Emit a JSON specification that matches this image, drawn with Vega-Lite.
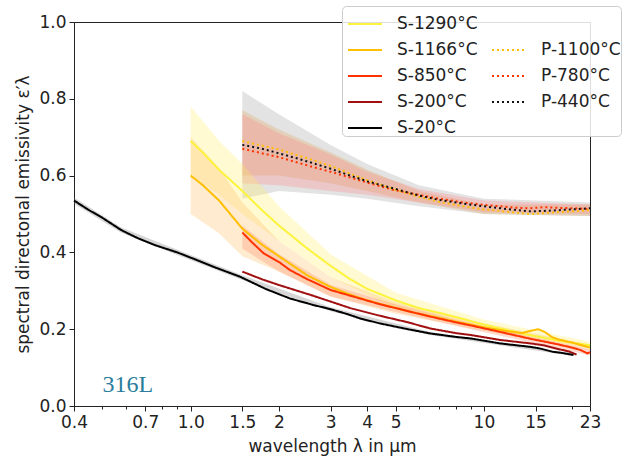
{
  "$schema": "https://vega.github.io/schema/vega-lite/v6.json",
  "width": 516,
  "height": 384,
  "autosize": {"type": "none"},
  "padding": {"left": 74, "top": 22, "right": 33, "bottom": 57},
  "background": "white",
  "config": {
    "view": {"stroke": "#222", "strokeWidth": 1},
    "font": "DejaVu Sans",
    "axis": {
      "labelFont": "DejaVu Sans", "labelFontSize": 17, "labelColor": "#222",
      "titleFont": "DejaVu Sans", "titleFontSize": 17, "titleColor": "#222", "titleFontWeight": "normal",
      "grid": false, "tickColor": "#222", "domainColor": "#222", "tickSize": 5, "labelPadding": 3
    },
    "legend": {
      "labelFont": "DejaVu Sans", "labelFontSize": 17, "labelColor": "#222"
    }
  },
  "datasets": {
    "lines": [
      {"s": "S-1290°C", "lam": 1.0, "v": 0.69}, {"s": "S-1290°C", "lam": 1.1, "v": 0.66}, {"s": "S-1290°C", "lam": 1.25, "v": 0.615}, {"s": "S-1290°C", "lam": 1.5, "v": 0.56}, {"s": "S-1290°C", "lam": 1.75, "v": 0.51}, {"s": "S-1290°C", "lam": 2.0, "v": 0.47}, {"s": "S-1290°C", "lam": 2.5, "v": 0.41}, {"s": "S-1290°C", "lam": 3.0, "v": 0.365}, {"s": "S-1290°C", "lam": 3.5, "v": 0.33}, {"s": "S-1290°C", "lam": 4.0, "v": 0.305}, {"s": "S-1290°C", "lam": 5.0, "v": 0.275}, {"s": "S-1290°C", "lam": 6.0, "v": 0.255}, {"s": "S-1290°C", "lam": 7.0, "v": 0.243}, {"s": "S-1290°C", "lam": 8.0, "v": 0.232}, {"s": "S-1290°C", "lam": 10.0, "v": 0.212}, {"s": "S-1290°C", "lam": 12.0, "v": 0.198}, {"s": "S-1290°C", "lam": 14.0, "v": 0.186}, {"s": "S-1290°C", "lam": 16.0, "v": 0.178}, {"s": "S-1290°C", "lam": 18.0, "v": 0.17}, {"s": "S-1290°C", "lam": 20.0, "v": 0.165}, {"s": "S-1290°C", "lam": 23.0, "v": 0.158},
      {"s": "S-1166°C", "lam": 1.0, "v": 0.6}, {"s": "S-1166°C", "lam": 1.1, "v": 0.575}, {"s": "S-1166°C", "lam": 1.25, "v": 0.535}, {"s": "S-1166°C", "lam": 1.5, "v": 0.462}, {"s": "S-1166°C", "lam": 1.75, "v": 0.42}, {"s": "S-1166°C", "lam": 2.0, "v": 0.39}, {"s": "S-1166°C", "lam": 2.5, "v": 0.34}, {"s": "S-1166°C", "lam": 3.0, "v": 0.31}, {"s": "S-1166°C", "lam": 3.5, "v": 0.29}, {"s": "S-1166°C", "lam": 4.0, "v": 0.275}, {"s": "S-1166°C", "lam": 5.0, "v": 0.255}, {"s": "S-1166°C", "lam": 6.0, "v": 0.24}, {"s": "S-1166°C", "lam": 7.0, "v": 0.23}, {"s": "S-1166°C", "lam": 8.0, "v": 0.22}, {"s": "S-1166°C", "lam": 10.0, "v": 0.205}, {"s": "S-1166°C", "lam": 12.0, "v": 0.195}, {"s": "S-1166°C", "lam": 13.5, "v": 0.19}, {"s": "S-1166°C", "lam": 14.5, "v": 0.196}, {"s": "S-1166°C", "lam": 15.3, "v": 0.2}, {"s": "S-1166°C", "lam": 16.2, "v": 0.192}, {"s": "S-1166°C", "lam": 17.0, "v": 0.18}, {"s": "S-1166°C", "lam": 18.0, "v": 0.173}, {"s": "S-1166°C", "lam": 20.0, "v": 0.165}, {"s": "S-1166°C", "lam": 23.0, "v": 0.152},
      {"s": "S-850°C", "lam": 1.5, "v": 0.452}, {"s": "S-850°C", "lam": 1.6, "v": 0.43}, {"s": "S-850°C", "lam": 1.77, "v": 0.398}, {"s": "S-850°C", "lam": 2.0, "v": 0.375}, {"s": "S-850°C", "lam": 2.18, "v": 0.354}, {"s": "S-850°C", "lam": 2.5, "v": 0.33}, {"s": "S-850°C", "lam": 2.76, "v": 0.315}, {"s": "S-850°C", "lam": 3.0, "v": 0.302}, {"s": "S-850°C", "lam": 3.78, "v": 0.28}, {"s": "S-850°C", "lam": 4.42, "v": 0.265}, {"s": "S-850°C", "lam": 5.0, "v": 0.255}, {"s": "S-850°C", "lam": 6.55, "v": 0.233}, {"s": "S-850°C", "lam": 8.0, "v": 0.218}, {"s": "S-850°C", "lam": 9.0, "v": 0.21}, {"s": "S-850°C", "lam": 11.35, "v": 0.193}, {"s": "S-850°C", "lam": 14.4, "v": 0.175}, {"s": "S-850°C", "lam": 16.0, "v": 0.168}, {"s": "S-850°C", "lam": 18.0, "v": 0.16}, {"s": "S-850°C", "lam": 20.0, "v": 0.152}, {"s": "S-850°C", "lam": 21.5, "v": 0.145}, {"s": "S-850°C", "lam": 22.5, "v": 0.137}, {"s": "S-850°C", "lam": 23.0, "v": 0.14},
      {"s": "S-200°C", "lam": 1.5, "v": 0.35}, {"s": "S-200°C", "lam": 1.75, "v": 0.33}, {"s": "S-200°C", "lam": 2.0, "v": 0.315}, {"s": "S-200°C", "lam": 2.57, "v": 0.289}, {"s": "S-200°C", "lam": 3.0, "v": 0.272}, {"s": "S-200°C", "lam": 3.5, "v": 0.255}, {"s": "S-200°C", "lam": 4.42, "v": 0.235}, {"s": "S-200°C", "lam": 5.5, "v": 0.218}, {"s": "S-200°C", "lam": 6.55, "v": 0.202}, {"s": "S-200°C", "lam": 8.0, "v": 0.19}, {"s": "S-200°C", "lam": 9.0, "v": 0.185}, {"s": "S-200°C", "lam": 11.35, "v": 0.172}, {"s": "S-200°C", "lam": 14.4, "v": 0.163}, {"s": "S-200°C", "lam": 16.0, "v": 0.158}, {"s": "S-200°C", "lam": 18.0, "v": 0.148}, {"s": "S-200°C", "lam": 19.5, "v": 0.142}, {"s": "S-200°C", "lam": 20.7, "v": 0.134},
      {"s": "S-20°C", "lam": 0.4, "v": 0.535}, {"s": "S-20°C", "lam": 0.45, "v": 0.51}, {"s": "S-20°C", "lam": 0.5, "v": 0.49}, {"s": "S-20°C", "lam": 0.58, "v": 0.458}, {"s": "S-20°C", "lam": 0.66, "v": 0.437}, {"s": "S-20°C", "lam": 0.755, "v": 0.419}, {"s": "S-20°C", "lam": 0.9, "v": 0.4}, {"s": "S-20°C", "lam": 1.05, "v": 0.38}, {"s": "S-20°C", "lam": 1.21, "v": 0.361}, {"s": "S-20°C", "lam": 1.47, "v": 0.337}, {"s": "S-20°C", "lam": 1.8, "v": 0.305}, {"s": "S-20°C", "lam": 2.18, "v": 0.28}, {"s": "S-20°C", "lam": 2.62, "v": 0.263}, {"s": "S-20°C", "lam": 3.0, "v": 0.252}, {"s": "S-20°C", "lam": 3.4, "v": 0.24}, {"s": "S-20°C", "lam": 3.78, "v": 0.228}, {"s": "S-20°C", "lam": 4.42, "v": 0.215}, {"s": "S-20°C", "lam": 5.5, "v": 0.2}, {"s": "S-20°C", "lam": 6.55, "v": 0.189}, {"s": "S-20°C", "lam": 8.0, "v": 0.18}, {"s": "S-20°C", "lam": 9.0, "v": 0.176}, {"s": "S-20°C", "lam": 11.35, "v": 0.163}, {"s": "S-20°C", "lam": 14.4, "v": 0.154}, {"s": "S-20°C", "lam": 15.5, "v": 0.15}, {"s": "S-20°C", "lam": 17.2, "v": 0.141}, {"s": "S-20°C", "lam": 18.5, "v": 0.138}, {"s": "S-20°C", "lam": 20.2, "v": 0.133},
      {"s": "P-1100°C", "lam": 1.5, "v": 0.69}, {"s": "P-1100°C", "lam": 2.0, "v": 0.668}, {"s": "P-1100°C", "lam": 2.62, "v": 0.64}, {"s": "P-1100°C", "lam": 3.0, "v": 0.625}, {"s": "P-1100°C", "lam": 3.5, "v": 0.605}, {"s": "P-1100°C", "lam": 4.0, "v": 0.588}, {"s": "P-1100°C", "lam": 4.9, "v": 0.565}, {"s": "P-1100°C", "lam": 6.0, "v": 0.545}, {"s": "P-1100°C", "lam": 7.0, "v": 0.532}, {"s": "P-1100°C", "lam": 8.5, "v": 0.52}, {"s": "P-1100°C", "lam": 10.0, "v": 0.512}, {"s": "P-1100°C", "lam": 11.35, "v": 0.508}, {"s": "P-1100°C", "lam": 13.0, "v": 0.503}, {"s": "P-1100°C", "lam": 14.4, "v": 0.5}, {"s": "P-1100°C", "lam": 16.0, "v": 0.502}, {"s": "P-1100°C", "lam": 18.0, "v": 0.505}, {"s": "P-1100°C", "lam": 20.0, "v": 0.507}, {"s": "P-1100°C", "lam": 23.0, "v": 0.51},
      {"s": "P-780°C", "lam": 1.5, "v": 0.67}, {"s": "P-780°C", "lam": 2.0, "v": 0.648}, {"s": "P-780°C", "lam": 2.62, "v": 0.622}, {"s": "P-780°C", "lam": 3.0, "v": 0.61}, {"s": "P-780°C", "lam": 3.5, "v": 0.595}, {"s": "P-780°C", "lam": 4.0, "v": 0.582}, {"s": "P-780°C", "lam": 4.9, "v": 0.563}, {"s": "P-780°C", "lam": 6.0, "v": 0.55}, {"s": "P-780°C", "lam": 7.0, "v": 0.54}, {"s": "P-780°C", "lam": 8.5, "v": 0.53}, {"s": "P-780°C", "lam": 10.0, "v": 0.524}, {"s": "P-780°C", "lam": 11.35, "v": 0.52}, {"s": "P-780°C", "lam": 13.0, "v": 0.516}, {"s": "P-780°C", "lam": 14.4, "v": 0.515}, {"s": "P-780°C", "lam": 16.0, "v": 0.518}, {"s": "P-780°C", "lam": 18.0, "v": 0.516}, {"s": "P-780°C", "lam": 20.0, "v": 0.515}, {"s": "P-780°C", "lam": 23.0, "v": 0.513},
      {"s": "P-440°C", "lam": 1.5, "v": 0.68}, {"s": "P-440°C", "lam": 1.75, "v": 0.67}, {"s": "P-440°C", "lam": 2.0, "v": 0.658}, {"s": "P-440°C", "lam": 2.3, "v": 0.645}, {"s": "P-440°C", "lam": 2.62, "v": 0.632}, {"s": "P-440°C", "lam": 3.0, "v": 0.618}, {"s": "P-440°C", "lam": 3.5, "v": 0.6}, {"s": "P-440°C", "lam": 4.0, "v": 0.585}, {"s": "P-440°C", "lam": 4.9, "v": 0.567}, {"s": "P-440°C", "lam": 6.0, "v": 0.548}, {"s": "P-440°C", "lam": 7.0, "v": 0.537}, {"s": "P-440°C", "lam": 8.5, "v": 0.527}, {"s": "P-440°C", "lam": 10.0, "v": 0.52}, {"s": "P-440°C", "lam": 11.35, "v": 0.515}, {"s": "P-440°C", "lam": 13.0, "v": 0.51}, {"s": "P-440°C", "lam": 14.4, "v": 0.507}, {"s": "P-440°C", "lam": 16.0, "v": 0.508}, {"s": "P-440°C", "lam": 18.0, "v": 0.51}, {"s": "P-440°C", "lam": 20.0, "v": 0.512}, {"s": "P-440°C", "lam": 23.0, "v": 0.515}
    ],
    "bands": [
      {"b": "P-440", "lam": 1.5, "lo": 0.54, "hi": 0.82}, {"b": "P-440", "lam": 2.0, "lo": 0.56, "hi": 0.76}, {"b": "P-440", "lam": 3.0, "lo": 0.55, "hi": 0.68}, {"b": "P-440", "lam": 4.0, "lo": 0.54, "hi": 0.63}, {"b": "P-440", "lam": 6.0, "lo": 0.52, "hi": 0.575}, {"b": "P-440", "lam": 10.0, "lo": 0.5, "hi": 0.54}, {"b": "P-440", "lam": 23.0, "lo": 0.495, "hi": 0.53},
      {"b": "P-1100", "lam": 1.5, "lo": 0.6, "hi": 0.77}, {"b": "P-1100", "lam": 2.0, "lo": 0.6, "hi": 0.72}, {"b": "P-1100", "lam": 3.0, "lo": 0.58, "hi": 0.66}, {"b": "P-1100", "lam": 4.0, "lo": 0.56, "hi": 0.615}, {"b": "P-1100", "lam": 6.0, "lo": 0.53, "hi": 0.56}, {"b": "P-1100", "lam": 10.0, "lo": 0.5, "hi": 0.525}, {"b": "P-1100", "lam": 23.0, "lo": 0.495, "hi": 0.525},
      {"b": "P-780", "lam": 1.5, "lo": 0.58, "hi": 0.76}, {"b": "P-780", "lam": 2.0, "lo": 0.575, "hi": 0.71}, {"b": "P-780", "lam": 3.0, "lo": 0.56, "hi": 0.655}, {"b": "P-780", "lam": 4.0, "lo": 0.55, "hi": 0.61}, {"b": "P-780", "lam": 6.0, "lo": 0.53, "hi": 0.565}, {"b": "P-780", "lam": 10.0, "lo": 0.505, "hi": 0.535}, {"b": "P-780", "lam": 23.0, "lo": 0.5, "hi": 0.525},
      {"b": "S-1290", "lam": 1.0, "lo": 0.6, "hi": 0.78}, {"b": "S-1290", "lam": 1.25, "lo": 0.55, "hi": 0.69}, {"b": "S-1290", "lam": 1.5, "lo": 0.5, "hi": 0.63}, {"b": "S-1290", "lam": 2.0, "lo": 0.43, "hi": 0.52}, {"b": "S-1290", "lam": 3.0, "lo": 0.335, "hi": 0.395}, {"b": "S-1290", "lam": 5.0, "lo": 0.255, "hi": 0.295}, {"b": "S-1290", "lam": 10.0, "lo": 0.2, "hi": 0.225}, {"b": "S-1290", "lam": 23.0, "lo": 0.15, "hi": 0.167},
      {"b": "S-1166", "lam": 1.0, "lo": 0.5, "hi": 0.7}, {"b": "S-1166", "lam": 1.25, "lo": 0.45, "hi": 0.62}, {"b": "S-1166", "lam": 1.5, "lo": 0.39, "hi": 0.53}, {"b": "S-1166", "lam": 2.0, "lo": 0.35, "hi": 0.43}, {"b": "S-1166", "lam": 3.0, "lo": 0.285, "hi": 0.335}, {"b": "S-1166", "lam": 5.0, "lo": 0.24, "hi": 0.27}, {"b": "S-1166", "lam": 10.0, "lo": 0.195, "hi": 0.215}, {"b": "S-1166", "lam": 23.0, "lo": 0.145, "hi": 0.16},
      {"b": "S-850", "lam": 1.5, "lo": 0.41, "hi": 0.47}, {"b": "S-850", "lam": 2.0, "lo": 0.35, "hi": 0.395}, {"b": "S-850", "lam": 3.0, "lo": 0.285, "hi": 0.315}, {"b": "S-850", "lam": 5.0, "lo": 0.245, "hi": 0.265}, {"b": "S-850", "lam": 10.0, "lo": 0.192, "hi": 0.207}, {"b": "S-850", "lam": 23.0, "lo": 0.132, "hi": 0.147},
      {"b": "S-20", "lam": 0.4, "lo": 0.527, "hi": 0.543}, {"b": "S-20", "lam": 0.58, "lo": 0.451, "hi": 0.465}, {"b": "S-20", "lam": 0.9, "lo": 0.393, "hi": 0.407}, {"b": "S-20", "lam": 1.47, "lo": 0.331, "hi": 0.343}, {"b": "S-20", "lam": 3.0, "lo": 0.247, "hi": 0.257}, {"b": "S-20", "lam": 6.55, "lo": 0.185, "hi": 0.193}, {"b": "S-20", "lam": 20.2, "lo": 0.13, "hi": 0.136}
    ],
    "note": [{"lam": 0.61, "v": 0.036, "t": "316L"}]
  },
  "layer": [
    {
      "data": {"name": "bands"},
      "mark": {"type": "area", "strokeWidth": 0},
      "encoding": {
        "x": {"field": "lam", "type": "quantitative", "scale": {"type": "log", "domain": [0.4, 23], "nice": false},
              "axis": {"values": [0.4, 0.7, 1.0, 1.5, 2, 3, 4, 5, 10, 15, 23], "labelFlush": false, "labelExpr": "datum.value == 1 ? '1.0' : format(datum.value, '~g')", "title": "wavelength λ in µm", "titlePadding": 8}},
        "y": {"field": "lo", "type": "quantitative", "scale": {"domain": [0, 1], "nice": false},
              "axis": {"values": [0, 0.2, 0.4, 0.6, 0.8, 1.0], "format": ".1f", "title": "spectral directonal emissivity ε′λ", "titlePadding": 6}},
        "y2": {"field": "hi"},
        "fill": {"field": "b", "type": "nominal", "legend": null,
                 "scale": {"domain": ["P-440", "P-1100", "P-780", "S-1290", "S-1166", "S-850", "S-20"],
                           "range": ["#9a9a9a", "#e0a050", "#ff8080", "#ffee60", "#ffbb60", "#ff8866", "#777777"]}},
        "fillOpacity": {"field": "b", "type": "nominal", "legend": null,
                 "scale": {"domain": ["P-440", "P-1100", "P-780", "S-1290", "S-1166", "S-850", "S-20"],
                           "range": [0.28, 0.3, 0.07, 0.25, 0.2, 0.16, 0.25]}},
        "detail": {"field": "b"}
      }
    },
    {
      "data": {"name": "lines"},
      "mark": {"type": "line", "strokeWidth": 2},
      "encoding": {
        "x": {"field": "lam", "type": "quantitative", "axis": null},
        "y": {"field": "v", "type": "quantitative"},
        "color": {"field": "s", "type": "nominal",
                  "scale": {"domain": ["S-1290°C", "S-1166°C", "S-850°C", "S-200°C", "S-20°C", " ", "P-1100°C", "P-780°C", "P-440°C"],
                            "range": ["#fdf33c", "#ffbf00", "#ff3300", "#a01010", "#000000", "transparent", "#ffbf00", "#ff3300", "#111111"]},
                  "legend": {"title": null, "orient": "none", "legendX": 268, "legendY": -16, "columns": 2,
                             "symbolType": "stroke", "symbolSize": 1156, "symbolStrokeWidth": 2, "symbolOffset": 5,
                             "labelOffset": 14, "columnPadding": 8, "rowPadding": -7, "padding": 0,
                             "strokeColor": "#cccccc", "fillColor": "rgba(255,255,255,0.85)", "cornerRadius": 4}},
        "strokeDash": {"field": "s", "type": "nominal",
                  "scale": {"domain": ["S-1290°C", "S-1166°C", "S-850°C", "S-200°C", "S-20°C", " ", "P-1100°C", "P-780°C", "P-440°C"],
                            "range": [[1, 0], [1, 0], [1, 0], [1, 0], [1, 0], [1, 0], [2, 3], [2, 3], [2, 3]]},
                  "legend": {"title": null, "orient": "none", "legendX": 268, "legendY": -16, "columns": 2,
                             "symbolType": "stroke", "symbolSize": 1156, "symbolStrokeWidth": 2, "symbolOffset": 5,
                             "labelOffset": 14, "columnPadding": 8, "rowPadding": -7, "padding": 0,
                             "strokeColor": "#cccccc", "fillColor": "rgba(255,255,255,0.85)", "cornerRadius": 4}}
      }
    },
    {
      "data": {"name": "note"},
      "mark": {"type": "text", "font": "Liberation Serif", "fontSize": 24, "color": "#2a7d9c", "align": "center", "baseline": "alphabetic"},
      "encoding": {
        "x": {"field": "lam", "type": "quantitative",
              "axis": {"orient": "bottom", "values": [0.5, 0.6, 0.8, 0.9, 6, 7, 8, 9, 20], "labels": false, "domain": false, "tickSize": 3, "title": null}},
        "y": {"field": "v", "type": "quantitative"},
        "text": {"field": "t"}
      }
    }
  ],
  "resolve": {"axis": {"x": "independent"}}
}
